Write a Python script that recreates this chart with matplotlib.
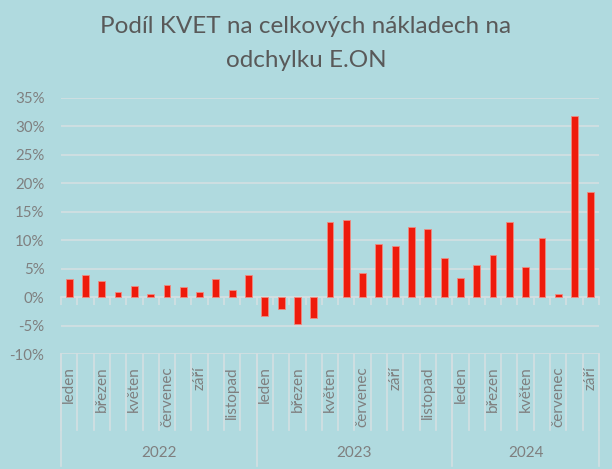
import numpy as np
import matplotlib
matplotlib.use("Agg")
import matplotlib.pyplot as plt
from matplotlib.ticker import FuncFormatter, FixedLocator

# Data (share in %, Jan 2022 - Sep 2024)
years = ["2022", "2023", "2024"]
months_per_year = [12, 12, 9]
month_names = ["leden", "únor", "březen", "duben", "květen", "červen",
               "červenec", "srpen", "září", "říjen", "listopad", "prosinec"]
values = [3.1, 3.8, 2.9, 0.9, 1.9, 0.6, 2.2, 1.8, 0.8, 3.1, 1.3, 3.9,
          -3.4, -2.1, -4.8, -3.7, 13.2, 13.6, 4.3, 9.4, 8.9, 12.3, 11.9, 6.8,
          3.4, 5.6, 7.4, 13.2, 5.3, 10.4, 0.5, 31.8, 18.4]

bg = "#B0DADF"
grid_c = "#D3DFE2"
text_c = "#7F7F7F"
bar_c = "#EE1B0C"

plt.rcParams["font.family"] = ["Lato", "DejaVu Sans"]

W, H = 612, 469
fig = plt.figure(figsize=(W / 100, H / 100), dpi=100, facecolor=bg)
left, right, top, bottom = 61, 599, 97.7, 354
ax = fig.add_axes([left / W, 1 - bottom / H, (right - left) / W, (bottom - top) / H])
ax.set_facecolor(bg)

x = np.arange(len(values))
ax.bar(x, np.array(values) / 100, width=0.42, color=bar_c,
       edgecolor="#F08A80", linewidth=0.6, zorder=3)

ax.set_xlim(-0.5, len(values) - 0.5)
ax.set_ylim(-0.10, 0.35)
ax.set_yticks(np.arange(-0.10, 0.351, 0.05))
ax.yaxis.set_major_formatter(FuncFormatter(lambda v, p: f"{v * 100:.0f}%"))
ax.tick_params(axis="y", length=0, labelsize=10.8, labelcolor=text_c, pad=12)
ax.grid(axis="y", color=grid_c, linewidth=1.2, zorder=0)
ax.set_axisbelow(True)

for s in ["top", "right", "left"]:
    ax.spines[s].set_visible(False)
ax.spines["bottom"].set_position(("data", 0))
ax.spines["bottom"].set_color(grid_c)
ax.spines["bottom"].set_linewidth(1.2)
ax.set_xticks([])
ax.xaxis.set_minor_locator(FixedLocator(np.arange(-0.5, len(values), 1.0)))
ax.tick_params(axis="x", which="minor", length=6, width=1.2, color=grid_c,
               direction="out")

# category axis below the plot
ph = bottom - top
def ay(py):
    return (bottom - py) / ph

trans = ax.get_xaxis_transform()
i = 0
for yr, n in zip(years, months_per_year):
    for m in range(n):
        if m % 2 == 0:
            ax.text(i + m, ay(366), month_names[m], rotation=90, ha="center",
                    va="top", fontsize=11, color=text_c, transform=trans)
    ax.text(i + (n - 1) / 2, ay(453), yr, ha="center", va="center",
            fontsize=11, color=text_c, transform=trans)
    i += n

for b in np.arange(-0.5, len(values), 1.0):
    ax.plot([b, b], [ay(bottom), ay(430)], color=grid_c, lw=1.2,
            transform=trans, clip_on=False)
i = 0
bounds = [-0.5]
for n in months_per_year:
    i += n
    bounds.append(i - 0.5)
for b in bounds:
    ax.plot([b, b], [ay(bottom), ay(466)], color=grid_c, lw=1.2,
            transform=trans, clip_on=False)

fig.text(0.5, 1 - 33 / H, "Podíl KVET na celkových nákladech na",
         ha="center", va="baseline", fontsize=17.5, color="#595959")
fig.text(0.5, 1 - 67 / H, "odchylku E.ON",
         ha="center", va="baseline", fontsize=17.5, color="#595959")

fig.savefig("out.png", dpi=100, facecolor=bg)
